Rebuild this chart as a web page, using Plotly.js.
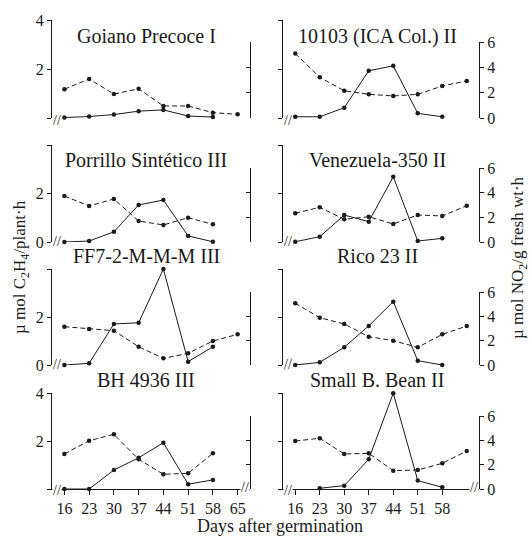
<!DOCTYPE html>
<html>
<head>
<meta charset="utf-8">
<script src="https://cdn.plot.ly/plotly-3.0.1.min.js"></script>
<style>html,body{margin:0;padding:0;background:#fff;}#chart{width:530px;height:539px;}</style>
</head>
<body>
<div id="chart"></div>
<script>
// ---------- data ----------
const cultivars = ["Goiano Precoce I", "10103 (ICA Col.) II", "Porrillo Sintético III", "Venezuela-350 II",
                   "FF7-2-M-M-M III", "Rico 23 II", "BH 4936 III", "Small B. Bean II"];
const days8 = [16, 23, 30, 37, 44, 51, 58, 65];
const days7 = [16, 23, 30, 37, 44, 51, 58];
const days6 = [23, 30, 37, 44, 51, 58];
const tickDaysLeft = [16, 23, 30, 37, 44, 51, 58, 65];
const tickDaysRight = [16, 23, 30, 37, 44, 51, 58];

// ethylene (C2H4, solid line, left axis)
const c2h4Goiano   = [0.02, 0.06, 0.14, 0.28, 0.33, 0.08, 0.04];
const c2h4_10103   = [0.05, 0.05, 0.42, 1.93, 2.13, 0.19, 0.05];
const c2h4Porrillo = [0.00, 0.04, 0.42, 1.53, 1.73, 0.25, 0.01];
const c2h4Venez    = [0.01, 0.22, 1.11, 0.84, 2.69, 0.04, 0.15];
const c2h4FF7      = [0.00, 0.07, 1.71, 1.76, 4.00, 0.14, 0.76];
const c2h4Rico     = [0.00, 0.11, 0.74, 1.63, 2.64, 0.18, 0.00];
const c2h4BH       = [0.00, 0.00, 0.79, 1.30, 1.93, 0.20, 0.38];
const c2h4Small    = [0.03, 0.14, 1.24, 3.99, 0.35, 0.07];

// nitrite (NO2, dashed line, right axis)
const no2Goiano   = [2.27, 3.08, 1.89, 2.31, 0.95, 0.95, 0.42, 0.29];
const no2_10103   = [5.10, 3.21, 2.15, 1.87, 1.74, 1.87, 2.53, 2.92];
const no2Porrillo = [3.73, 2.92, 3.49, 1.70, 1.38, 1.97, 1.43];
const no2Venez    = [2.33, 2.81, 1.84, 2.05, 1.46, 2.19, 2.11, 2.94];
const no2FF7      = [3.15, 2.96, 2.82, 1.50, 0.55, 0.96, 1.97, 2.52];
const no2Rico     = [5.07, 3.89, 3.37, 2.33, 2.00, 1.45, 2.52, 3.20];
const no2BH       = [2.88, 3.97, 4.49, 2.44, 1.21, 1.29, 2.93];
const no2Small    = [3.94, 4.17, 2.88, 2.93, 1.51, 1.56, 2.11, 3.12];

const c2h4Ticks = [0, 2, 4];
const no2Ticks = [0, 2, 4, 6];
// labelled C2H4 ticks per row of the left column
const rowLeftLabels = [[2, 4], [0, 2], [0, 2], [2, 4]];

const panels = [
  {name: cultivars[0], cx: days7, cy: c2h4Goiano,   nx: days8, ny: no2Goiano},
  {name: cultivars[1], cx: days7, cy: c2h4_10103,   nx: days8, ny: no2_10103},
  {name: cultivars[2], cx: days7, cy: c2h4Porrillo, nx: days7, ny: no2Porrillo},
  {name: cultivars[3], cx: days7, cy: c2h4Venez,    nx: days8, ny: no2Venez},
  {name: cultivars[4], cx: days7, cy: c2h4FF7,      nx: days8, ny: no2FF7},
  {name: cultivars[5], cx: days7, cy: c2h4Rico,     nx: days8, ny: no2Rico},
  {name: cultivars[6], cx: days7, cy: c2h4BH,       nx: days7, ny: no2BH},
  {name: cultivars[7], cx: days6, cy: c2h4Small,    nx: days8, ny: no2Small}
];

// ---------- layout geometry ----------
const W = 530, H = 539;
const px = x => x / W;
const py = y => 1 - y / H;
const FONT = "Liberation Serif, Times New Roman, serif";
const INK = "#1b1b1b";

const rows = [
  {top4: 20,  zero: 118, top6: 42,  title: 36,  brk: 120},
  {top4: 145, zero: 242, top6: 168, title: 160, brk: 241},
  {top4: 269, zero: 365, top6: 292, title: 256, brk: 364},
  {top4: 393, zero: 489, top6: 416, title: 380, brk: 490}
];
const cols = [
  {x0: 52, x1: 250, tx: 146, brk: 57, brkR: 245},
  {x0: 283, x1: 479, tx: 377, brk: 288, brkR: 474}
];

const traces = [];
const layout = {
  width: W, height: H,
  margin: {l: 0, r: 0, t: 0, b: 0},
  paper_bgcolor: "#fff", plot_bgcolor: "rgba(0,0,0,0)",
  showlegend: false,
  font: {family: FONT, color: INK, size: 16},
  annotations: []
};

panels.forEach((p, i) => {
  const r = Math.floor(i / 2), c = i % 2;
  const R = rows[r], C = cols[c];
  const xn = i + 1, yl = 2 * i + 1, yr = 2 * i + 2;
  const xs = "x" + (xn === 1 ? "" : xn);
  const yls = "y" + (yl === 1 ? "" : yl);
  const yrs = "y" + yr;
  const last = r === 3;

  layout["xaxis" + (xn === 1 ? "" : xn)] = last ? {
    domain: [px(C.x0), px(C.x1)], range: [12.5, 68.5], anchor: yls,
    showgrid: false, zeroline: false,
    showline: true, linecolor: INK, linewidth: 1,
    ticks: "outside", ticklen: 5, tickcolor: INK,
    tickmode: "array", tickvals: c === 0 ? tickDaysLeft : tickDaysRight,
    showticklabels: true, tickfont: {family: FONT, size: 16, color: INK}
  } : {
    domain: [px(C.x0), px(C.x1)], range: [12.5, 68.5], anchor: yls, visible: false
  };
  layout["yaxis" + (yl === 1 ? "" : yl)] = {
    domain: [py(R.zero), py(R.top4)], range: [0, 4], anchor: xs, side: "left",
    showgrid: false, zeroline: false, showline: true, linecolor: INK, linewidth: 1,
    ticks: "outside", ticklen: 4, tickcolor: INK,
    tickmode: "array", tickvals: c === 0 ? rowLeftLabels[r] : c2h4Ticks,
    minor: {tickmode: "array", tickvals: c2h4Ticks, ticks: "outside", ticklen: 4, tickcolor: INK, showgrid: false},
    showticklabels: c === 0, tickfont: {family: FONT, size: 16, color: INK}
  };
  layout["yaxis" + yr] = {
    domain: [py(R.zero), py(R.top6)], range: [0, 6], anchor: xs, side: "right",
    showgrid: false, zeroline: false, showline: true, linecolor: INK, linewidth: 1,
    ticks: c === 0 ? "inside" : "outside", ticklen: 4, tickcolor: INK,
    tickmode: "array", tickvals: no2Ticks,
    showticklabels: c === 1, tickfont: {family: FONT, size: 16, color: INK}
  };

  traces.push({
    type: "scatter", mode: "lines+markers", x: p.cx, y: p.cy, xaxis: xs, yaxis: yls,
    line: {color: INK, width: 1}, marker: {color: INK, size: 4.5}, cliponaxis: false,
    name: p.name + " C2H4"
  });
  traces.push({
    type: "scatter", mode: "lines+markers", x: p.nx, y: p.ny, xaxis: xs, yaxis: yrs,
    line: {color: INK, width: 1, dash: "5px,3px"}, marker: {color: INK, size: 4.5}, cliponaxis: false,
    name: p.name + " NO2"
  });

  // panel title
  layout.annotations.push({
    text: p.name, xref: "paper", yref: "paper", x: px(C.tx), y: py(R.title),
    xanchor: "center", yanchor: "middle", showarrow: false,
    font: {family: FONT, size: 20, color: INK}
  });
  // axis break marks
  layout.annotations.push({
    text: "//", xref: "paper", yref: "paper", x: px(C.brk), y: py(R.brk),
    xanchor: "center", yanchor: "middle", showarrow: false, bgcolor: "#fff",
    borderpad: 0, font: {family: FONT, size: 14, color: INK}
  });
  if (last) {
    layout.annotations.push({
      text: "//", xref: "paper", yref: "paper", x: px(C.brkR), y: py(R.brk - 3),
      xanchor: "center", yanchor: "middle", showarrow: false, bgcolor: "#fff",
      borderpad: 0, font: {family: FONT, size: 14, color: INK}
    });
  }
});

// shared axis titles
layout.annotations.push({
  text: "µ mol C<sub>2</sub>H<sub>4</sub>/plant·h", xref: "paper", yref: "paper",
  x: px(21), y: py(267), textangle: -90, showarrow: false, xanchor: "center", yanchor: "middle",
  font: {family: FONT, size: 17, color: INK}
});
layout.annotations.push({
  text: "µ mol NO<sub>2</sub>/g fresh wt·h", xref: "paper", yref: "paper",
  x: px(519), y: py(258), textangle: -90, showarrow: false, xanchor: "center", yanchor: "middle",
  font: {family: FONT, size: 17, color: INK}
});
layout.annotations.push({
  text: "Days after germination", xref: "paper", yref: "paper",
  x: px(280), y: py(526), showarrow: false, xanchor: "center", yanchor: "middle",
  font: {family: FONT, size: 18, color: INK}
});

Plotly.newPlot("chart", traces, layout, {displayModeBar: false, staticPlot: true});
</script>
</body>
</html>
